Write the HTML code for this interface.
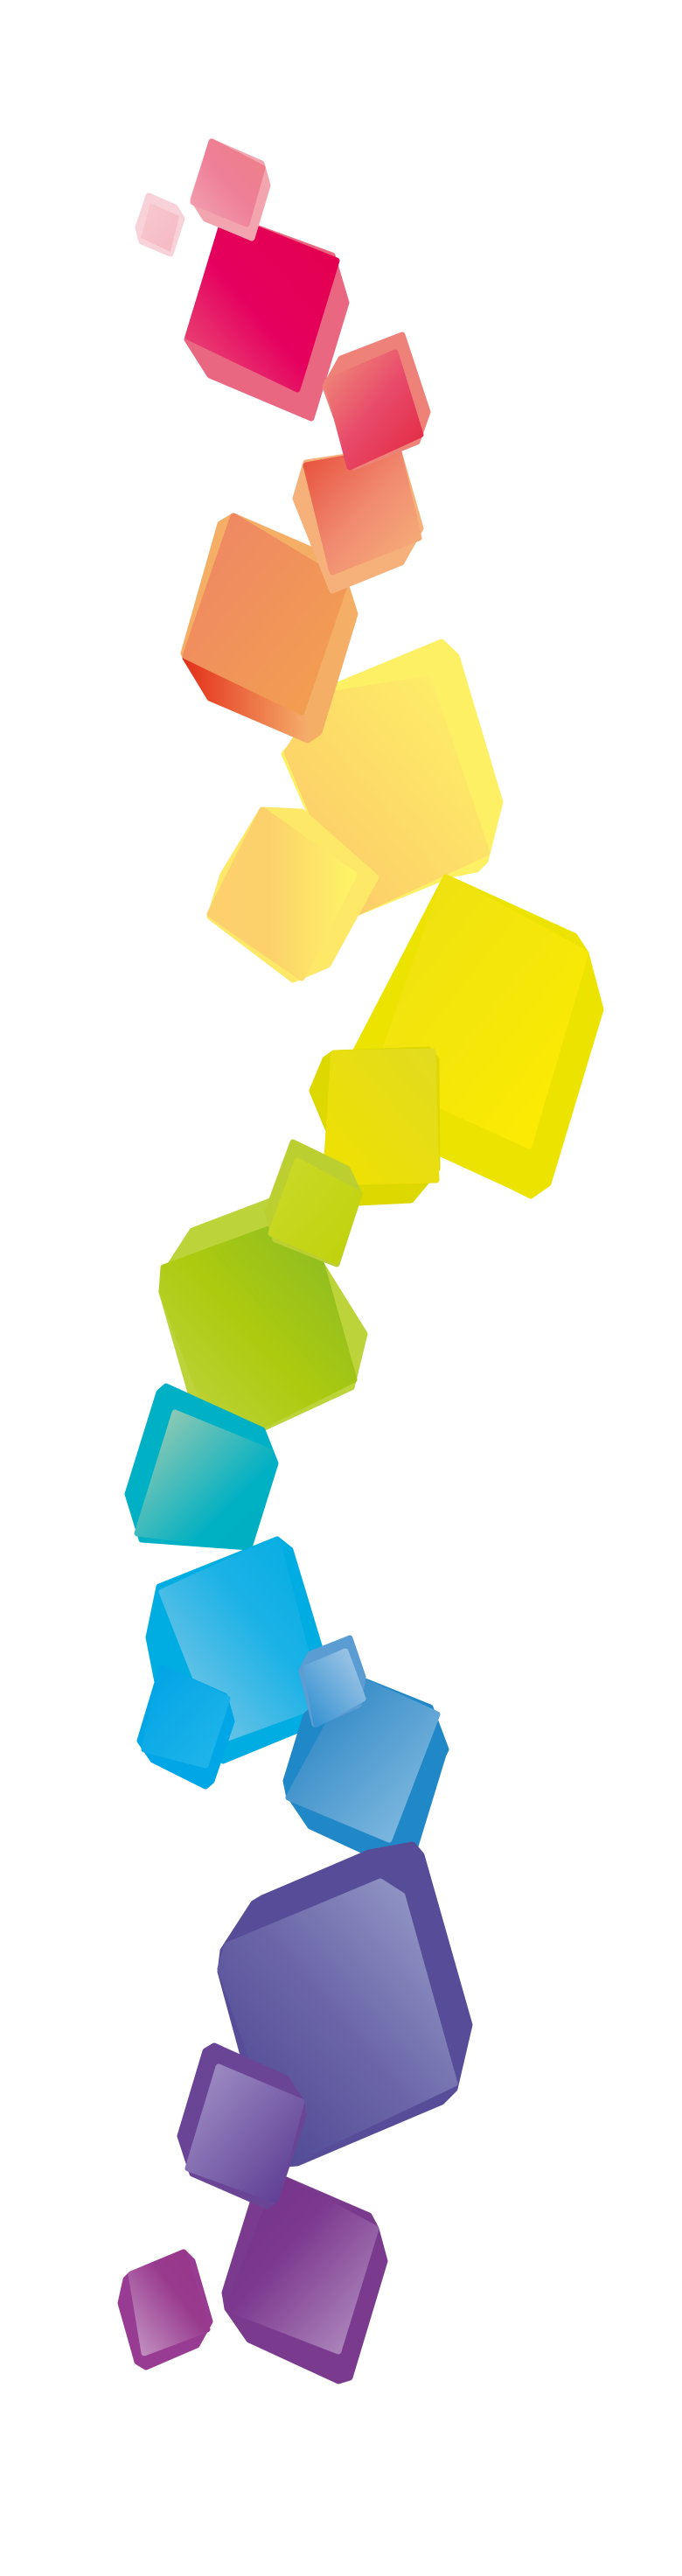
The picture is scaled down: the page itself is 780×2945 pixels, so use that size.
<!DOCTYPE html>
<html><head><meta charset="utf-8"><style>
html,body{margin:0;padding:0;background:#fff;}
svg{display:block;}
polygon{stroke-linejoin:round;stroke-width:7;}
</style></head><body>
<svg width="780" height="2945" viewBox="0 0 780 2945">
<defs>
<linearGradient id="g1" x1="0" y1="0" x2="1" y2="1"><stop offset="0" stop-color="#f8c9d0"/><stop offset="1" stop-color="#f5b8c2"/></linearGradient>
<linearGradient id="g2" x1="0" y1="1" x2="1" y2="0"><stop offset="0" stop-color="#f3a3b3"/><stop offset="0.5" stop-color="#ee7f98"/><stop offset="1" stop-color="#ef7f86"/></linearGradient>
<linearGradient id="g3" x1="0" y1="1" x2="1" y2="0"><stop offset="0" stop-color="#eb5879"/><stop offset="0.45" stop-color="#e5005f"/><stop offset="1" stop-color="#e4004a"/></linearGradient>
<linearGradient id="g4" x1="0" y1="0" x2="1" y2="1"><stop offset="0" stop-color="#f0907a"/><stop offset="0.5" stop-color="#e84a6a"/><stop offset="1" stop-color="#e3273f"/></linearGradient>
<linearGradient id="g5" x1="0" y1="0" x2="1" y2="1"><stop offset="0" stop-color="#e84e3a"/><stop offset="0.5" stop-color="#f08a70"/><stop offset="1" stop-color="#f7b47a"/></linearGradient>
<linearGradient id="g6" x1="0" y1="0" x2="1" y2="1"><stop offset="0" stop-color="#ee8466"/><stop offset="1" stop-color="#f3a24e"/></linearGradient>
<linearGradient id="g6b" x1="0" y1="0" x2="1" y2="0"><stop offset="0" stop-color="#e3311b"/><stop offset="1" stop-color="#f5ad6a"/></linearGradient>
<linearGradient id="g7" x1="0" y1="1" x2="1" y2="0"><stop offset="0" stop-color="#fcc66a"/><stop offset="1" stop-color="#fef266"/></linearGradient>
<linearGradient id="g8" x1="0" y1="0" x2="1" y2="0"><stop offset="0" stop-color="#fdd06e"/><stop offset="0.4" stop-color="#fcd06a"/><stop offset="1" stop-color="#fef466"/></linearGradient>
<linearGradient id="g9" x1="0" y1="0" x2="1" y2="1"><stop offset="0" stop-color="#ece013"/><stop offset="1" stop-color="#feec00"/></linearGradient>
<linearGradient id="g10" x1="0" y1="1" x2="1" y2="0"><stop offset="0" stop-color="#efe100"/><stop offset="1" stop-color="#e2db20"/></linearGradient>
<linearGradient id="g11" x1="0" y1="0" x2="1" y2="1"><stop offset="0" stop-color="#cbd92a"/><stop offset="1" stop-color="#bfd20a"/></linearGradient>
<linearGradient id="g12" x1="0" y1="1" x2="1" y2="0"><stop offset="0" stop-color="#c3d64a"/><stop offset="0.5" stop-color="#adca0e"/><stop offset="1" stop-color="#86ba28"/></linearGradient>
<linearGradient id="g13" x1="0" y1="0" x2="1" y2="1"><stop offset="0" stop-color="#a9cdb0"/><stop offset="0.7" stop-color="#00b0c3"/><stop offset="1" stop-color="#00aec2"/></linearGradient>
<linearGradient id="g14" x1="0" y1="1" x2="1" y2="0"><stop offset="0" stop-color="#8fcbe6"/><stop offset="0.6" stop-color="#1bb2e6"/><stop offset="1" stop-color="#00ade3"/></linearGradient>
<linearGradient id="g15" x1="0" y1="0" x2="1" y2="1"><stop offset="0" stop-color="#00a3e5"/><stop offset="1" stop-color="#22b6ea"/></linearGradient>
<linearGradient id="g16" x1="0" y1="1" x2="1" y2="0"><stop offset="0" stop-color="#2f8fd0"/><stop offset="1" stop-color="#a9cae8"/></linearGradient>
<linearGradient id="g17" x1="0" y1="0" x2="1" y2="1"><stop offset="0" stop-color="#1e7dc0"/><stop offset="1" stop-color="#8bc0e3"/></linearGradient>
<linearGradient id="g18" x1="0" y1="1" x2="1" y2="0"><stop offset="0" stop-color="#48418f"/><stop offset="0.5" stop-color="#6b65a8"/><stop offset="1" stop-color="#9aa2cc"/></linearGradient>
<linearGradient id="g19" x1="0" y1="0" x2="1" y2="1"><stop offset="0" stop-color="#a394c8"/><stop offset="1" stop-color="#593790"/></linearGradient>
<linearGradient id="g20" x1="0" y1="0" x2="1" y2="1"><stop offset="0" stop-color="#73328b"/><stop offset="0.4" stop-color="#7c388e"/><stop offset="1" stop-color="#b594c4"/></linearGradient>
<linearGradient id="g21" x1="0" y1="1" x2="1" y2="0"><stop offset="0" stop-color="#c597c6"/><stop offset="0.6" stop-color="#983a8d"/><stop offset="1" stop-color="#96368b"/></linearGradient>
</defs>

<g>
<polygon fill="#f8d2d8" stroke="#f8d2d8" points="170,224 200,237 208,250 195,290 162,276 158,260"/>
<polygon fill="url(#g1)" stroke="none" points="172,232 205,247 195,288 161,272"/>
</g>
<g>
<polygon fill="#ea6782" stroke="#ea6782" points="257,247 380,292 396,346 356,478 240,429 214,388"/>
<polygon fill="url(#g3)" stroke="url(#g3)" points="257,247 385,298 340,445 215,385"/>
</g>
<g>
<polygon fill="#f2a5af" stroke="#f2a5af" points="242,162 299,187 306,212 288,272 235,250 221,228"/>
<polygon fill="url(#g2)" stroke="url(#g2)" points="242,162 300,192 282,256 221,231"/>
</g>

<g>
<polygon fill="#fef064" stroke="#fef064" points="505,734 522,750 572,917 555,984 545,994 515,1000 405,1045 325,862 345,840 370,790"/>
<polygon fill="url(#g7)" stroke="url(#g7)" points="370,795 490,776 557,975 405,1045 328,860"/>
</g>
<g>
<polygon fill="#f5ae66" stroke="#f5ae66" points="267,590 355,628 395,667 406,702 365,837 352,846 240,798 210,747 252,599"/>
<polygon fill="url(#g6b)" stroke="url(#g6b)" points="212,752 345,814 352,846 240,798"/>
<polygon fill="url(#g6)" stroke="url(#g6)" points="267,590 395,667 345,814 212,750"/>
</g>
<g>
<polygon fill="#f6b079" stroke="#f6b079" points="350,529 455,513 481,604 459,643 380,675 338,570"/>
<polygon fill="url(#g5)" stroke="url(#g5)" points="350,532 455,513 479,615 380,654"/>
</g>
<g>
<polygon fill="#ee8279" stroke="#ee8279" points="390,410 460,383 489,471 477,505 405,534 372,442"/>
<polygon fill="url(#g4)" stroke="url(#g4)" points="374,436 452,403 481,497 400,534"/>
</g>

<g>
<polygon fill="#ede300" stroke="#ede300" points="510,1003 657,1070 670,1090 687,1154 627,1353 607,1367 585,1356 500,1317 405,1205"/>
<polygon fill="url(#g9)" stroke="url(#g9)" points="510,1003 670,1090 605,1310 430,1230"/>
</g>
<g>
<polygon fill="#fee868" stroke="#fee868" points="300,926 345,928 430,1003 375,1103 335,1120 240,1048 255,1000"/>
<polygon fill="url(#g8)" stroke="url(#g8)" points="300,926 405,1000 345,1118 240,1045"/>
</g>
<g>
<polygon fill="#dcd800" stroke="#dcd800" points="382,1204 490,1200 499,1211 500,1336 470,1372 410,1375 357,1247 372,1211"/>
<polygon fill="url(#g10)" stroke="url(#g10)" points="382,1204 495,1202 499,1349 372,1352"/>
</g>
<g>
<polygon fill="#bcd43a" stroke="#bcd43a" points="220,1407 320,1369 417,1525 402,1586 255,1654 232,1641 185,1477 187,1458"/>
<polygon fill="url(#g12)" stroke="url(#g12)" points="187,1449 310,1404 365,1436 405,1577 252,1654 185,1477"/>
</g>
<g>
<polygon fill="#bccf30" stroke="#bccf30" points="335,1306 397,1336 411,1365 385,1445 315,1417 306,1385"/>
<polygon fill="url(#g11)" stroke="url(#g11)" points="340,1327 411,1365 385,1442 310,1410"/>
</g>

<g>
<polygon fill="#00b0c4" stroke="#00b0c4" points="190,1585 300,1635 315,1673 285,1769 162,1760 146,1708 182,1592"/>
<polygon fill="url(#g13)" stroke="url(#g13)" points="200,1615 310,1660 285,1769 157,1753"/>
</g>
<g>
<polygon fill="#00ade3" stroke="#00ade3" points="317,1760 332,1772 367,1888 350,1974 255,2013 180,1923 170,1872 182,1814"/>
<polygon fill="url(#g14)" stroke="url(#g14)" points="185,1820 317,1760 365,1949 252,1990"/>
</g>
<g>
<polygon fill="#00a6e6" stroke="#00a6e6" points="185,1907 257,1939 265,1968 242,2036 235,2042 175,2012 160,1990"/>
<polygon fill="url(#g15)" stroke="url(#g15)" points="185,1907 260,1942 235,2018 165,2000"/>
</g>
<g>
<polygon fill="#2188c8" stroke="#2188c8" points="405,1917 492,1952 510,2000 507,2006 470,2127 455,2134 355,2088 330,2051 327,2036 350,1961"/>
<polygon fill="url(#g17)" stroke="url(#g17)" points="405,1917 500,1960 445,2103 330,2055"/>
</g>
<g>
<polygon fill="#5b9cd3" stroke="#5b9cd3" points="400,1873 415,1917 410,1949 360,1971 345,1910 355,1891"/>
<polygon fill="url(#g16)" stroke="url(#g16)" points="350,1907 395,1888 415,1942 362,1971"/>
</g>

<g>
<polygon fill="#574c98" stroke="#574c98" points="422,2118 472,2109 482,2121 537,2315 520,2388 505,2403 340,2473 327,2474 280,2357 252,2254 255,2230 290,2176 300,2170"/>
<polygon fill="url(#g18)" stroke="url(#g18)" points="260,2224 435,2151 460,2167 520,2382 330,2472 252,2251"/>
</g>
<g>
<polygon fill="#7a3a8e" stroke="#7a3a8e" points="320,2489 422,2533 430,2548 440,2585 400,2718 387,2722 285,2675 260,2639 257,2621 290,2515"/>
<polygon fill="url(#g20)" stroke="url(#g20)" points="320,2489 430,2548 387,2688 260,2639"/>
</g>
<g>
<polygon fill="#6a4596" stroke="#6a4596" points="245,2339 327,2376 345,2403 347,2418 315,2515 305,2522 220,2485 206,2442 235,2345"/>
<polygon fill="url(#g19)" stroke="url(#g19)" points="250,2363 345,2403 315,2515 215,2479"/>
</g>
<g>
<polygon fill="#973c92" stroke="#973c92" points="150,2600 210,2575 220,2585 240,2654 225,2681 167,2706 157,2700 138,2633 144,2606"/>
<polygon fill="url(#g21)" stroke="url(#g21)" points="150,2600 210,2575 237,2663 165,2690"/>
</g>
</svg>
</body></html>
